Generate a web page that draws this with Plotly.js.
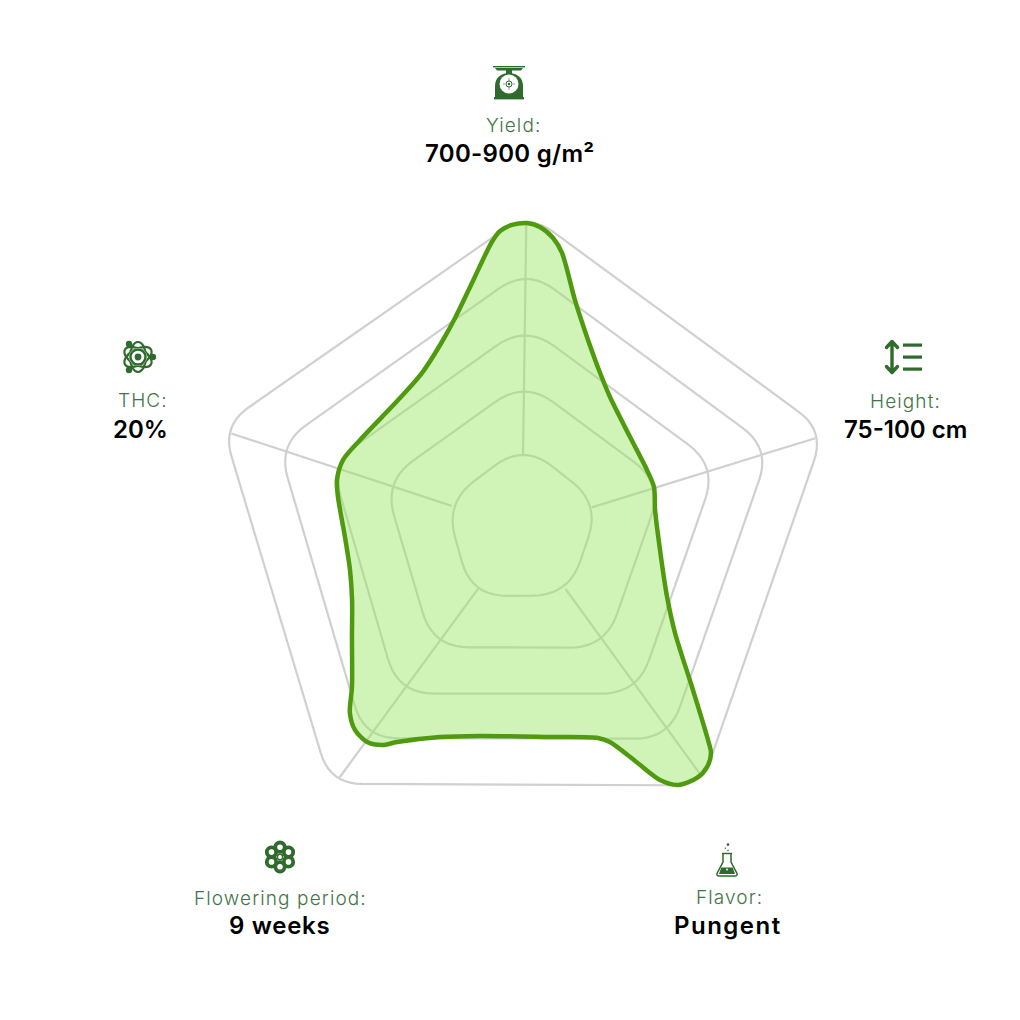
<!DOCTYPE html>
<html><head><meta charset="utf-8">
<script src="https://cdn.plot.ly/plotly-3.0.1.min.js"></script>
<style>html,body{margin:0;padding:0;background:#fff}#chart{width:1020px;height:1020px}</style>
</head><body><div id="chart"></div>
<script>
// ---- data ----
const categories = ["Yield:", "Height:", "Flavor:", "Flowering period:", "THC:"];
const categoryValues = ["700-900 g/m²", "75-100 cm", "Pungent", "9 weeks", "20%"];
const axisTheta = [89, 18, -55, -127, 161];
const ring1 = [85, 82, 81, 84, 81];
const ring2 = [148, 148, 145, 148, 146];
const ring3 = [204, 205, 201, 206, 202];
const ring4 = [260, 261, 256, 262, 258];
const ring5 = [316, 318, 313, 319, 317];
const spokeTheta = [89.2, 17.2, -54, -126.3, 161.8];
const spokeInner = [73, 73, 74, 74, 74];
const spokeOuter = [305, 307, 304, 308, 306];
const outlineTheta = [89.06,86.6,83.9,81.75,77,71.3,63.4,56.3,40.4,25.3,17.65,8.1,-8.65,-25.1,-34.2,-42.9,-48.6,-49.85,-52.1,-54.9,-58.6,-61.2,-64,-67.6,-70,-82.3,-101.5,-111.5,-120.4,-122.9,-126,-129.7,-133.1,-137.1,-147.6,-157.3,-166.6,-177.4,170.1,165.2,158.9,151.2,132.97,122.7,114,107.6,101,96,94.2,91.9,89.06];
const outlineR = [306,302.5,292.6,278.9,235.1,202.7,174.4,158.6,141.9,138.2,138.5,134.4,139.6,160.2,185,232.1,281.3,293.1,301.4,304.3,299.8,286.4,258.1,230.5,222.4,209.9,211.2,223.6,247,257.4,263.4,261.3,251.9,232.1,201.4,184.2,176.8,177.2,186.8,191.4,191.8,184.8,179,185.3,201.4,221.4,254,288.6,298.8,304.2,306];

// ---- style ----
const GRID = "#d0d0d0", LINE = "#4f9a0e", FILL = "rgba(150,230,95,0.45)";
const ICON = "#2f6b2c", LABEL = "#417545";
const ringCorner = [36, 36, 36, 34, 32];
const valueSpacing = [0.3, 0, 1.5, 0.7, 0];

// Draws a grid ring: straight edges between the axes, corners rounded.
function roundedRing(radii, corner) {
  const rad = Math.PI / 180, n = radii.length;
  const pts = radii.map((r, i) => [r * Math.cos(axisTheta[i] * rad), r * Math.sin(axisTheta[i] * rad)]);
  const r = [], t = [];
  const toward = (a, b, d) => { const L = Math.hypot(b[0]-a[0], b[1]-a[1]); return [a[0]+(b[0]-a[0])*d/L, a[1]+(b[1]-a[1])*d/L]; };
  for (let i = 0; i <= n; i++) {
    const v = pts[i % n], p = pts[(i + n - 1) % n], q = pts[(i + 1) % n];
    const a = toward(v, p, corner), b = toward(v, q, corner);
    const steps = i === n ? 0 : 10;
    for (let k = 0; k <= steps; k++) {
      const u = k / 10;
      const x = (1-u)*(1-u)*a[0] + 2*u*(1-u)*v[0] + u*u*b[0];
      const y = (1-u)*(1-u)*a[1] + 2*u*(1-u)*v[1] + u*u*b[1];
      r.push(Math.hypot(x, y)); t.push(Math.atan2(y, x) / rad);
    }
  }
  return { r, t };
}

const traces = [];
[ring1, ring2, ring3, ring4, ring5].forEach((ring, j) => {
  const g = roundedRing(ring, ringCorner[j]);
  traces.push({ type: "scatterpolar", mode: "lines", r: g.r, theta: g.t, hoverinfo: "skip",
    line: { color: GRID, width: 2.2 }, showlegend: false });
});
spokeTheta.forEach((th, i) => {
  traces.push({ type: "scatterpolar", mode: "lines", r: [spokeInner[i], spokeOuter[i]], theta: [th, th], hoverinfo: "skip",
    line: { color: GRID, width: 2.2 }, showlegend: false });
});
traces.push({ type: "scatterpolar", mode: "lines", r: outlineR, theta: outlineTheta, fill: "toself", fillcolor: FILL,
  line: { color: LINE, width: 4.5, shape: "spline", smoothing: 0.8 }, hoverinfo: "skip", showlegend: false });

// ---- text ----
const labelX = [513, 905, 729, 280, 143];
const labelY = [125, 402, 897, 898, 401];
const valueX = [510, 905, 728, 279, 140];
const valueY = [153, 429, 925, 925, 429];
const annotations = [];
categories.forEach((c, i) => {
  annotations.push({ xref: "paper", yref: "paper", x: labelX[i]/1020, y: 1-labelY[i]/1020,
    text: `<span style="letter-spacing:1.1px">${c}</span>`, showarrow: false,
    xanchor: "center", yanchor: "middle", font: { family: "Inter, sans-serif", size: 19, weight: 300, color: LABEL } });
  annotations.push({ xref: "paper", yref: "paper", x: valueX[i]/1020, y: 1-valueY[i]/1020,
    text: `<span style="letter-spacing:${valueSpacing[i]}px">${categoryValues[i]}</span>`, showarrow: false,
    xanchor: "center", yanchor: "middle", font: { family: "Inter, sans-serif", size: 24, weight: 600, color: "#000000" } });
});

// ---- icons ----
function svgUri(w, h, body) {
  return "data:image/svg+xml;utf8," + encodeURIComponent(
    `<svg xmlns="http://www.w3.org/2000/svg" width="${w}" height="${h}" viewBox="0 0 ${w} ${h}">${body}</svg>`);
}
const scaleIcon = `<g fill="${ICON}"><rect x="1" y="0" width="32" height="1.4"/><path d="M3 2H31L29 4.5H5Z"/><rect x="14" y="4" width="6" height="4"/>
<path d="M3 31V20C3 12 9 7 17 7S31 12 31 20V31Z"/><rect x="2" y="31" width="30" height="2.4"/></g>
<circle cx="17" cy="18" r="9.5" fill="#fff"/><circle cx="17" cy="18" r="3" fill="none" stroke="${ICON}" stroke-width="1"/><circle cx="17" cy="18" r="1.2" fill="${ICON}"/>
<path d="M17 12v3M11 18h2M21 18h2M17 21v3" stroke="${ICON}" stroke-width=".6"/>`;
const heightIcon = `<g stroke="${ICON}" stroke-width="3.4" fill="none" stroke-linecap="round" stroke-linejoin="round">
<path d="M10 4V34M4.5 9.5L10 3.5L15.5 9.5M4.5 28.5L10 34.5L15.5 28.5"/></g>
<g fill="${ICON}"><rect x="21" y="5.5" width="19" height="3.2"/><rect x="21" y="17.5" width="19" height="3.2"/><rect x="21" y="29.5" width="19" height="3.2"/></g>`;
const atomIcon = `<g fill="none" stroke="${ICON}" stroke-width="2.2"><ellipse cx="18" cy="18" rx="15" ry="8" transform="rotate(30 18 18)"/>
<ellipse cx="18" cy="18" rx="15" ry="8" transform="rotate(90 18 18)"/><ellipse cx="18" cy="18" rx="15" ry="8" transform="rotate(150 18 18)"/>
<circle cx="18" cy="18" r="9" fill="#fff" stroke="none"/><circle cx="18" cy="18" r="7.5" stroke-width="2.4"/></g>
<circle cx="18" cy="18" r="3.4" fill="${ICON}"/><g fill="${ICON}"><circle cx="9" cy="5" r="3.2"/><circle cx="33" cy="18" r="3.2"/><circle cx="9" cy="31" r="3.2"/></g>`;
const flowerIcon = `<g fill="none" stroke="${ICON}" stroke-width="3.8"><circle cx="17" cy="7.2" r="4.7"/><circle cx="25.5" cy="12.1" r="4.7"/><circle cx="25.5" cy="21.9" r="4.7"/>
<circle cx="17" cy="26.8" r="4.7"/><circle cx="8.5" cy="21.9" r="4.7"/><circle cx="8.5" cy="12.1" r="4.7"/><circle cx="17" cy="17" r="2.7" stroke-width="1.4"/></g>`;
const flaskIcon = `<path d="M8 11V19L2 30.5Q1.5 33 4 33H20Q22.5 33 22 30.5L16 19V11M7 10.5H17" fill="none" stroke="${ICON}" stroke-width="1.5"/>
<path d="M6.3 24.5H17.7L20 31H4Z" fill="${ICON}"/><circle cx="12" cy="26.5" r=".9" fill="#fff"/><g fill="${ICON}"><circle cx="13" cy="1.6" r="1.3"/><circle cx="10.3" cy="5.3" r=".7"/><circle cx="13" cy="7.5" r=".8"/></g>`;
const icons = [
  { svg: scaleIcon, x: 492, y: 66, w: 34, h: 34 },
  { svg: heightIcon, x: 882, y: 338, w: 42, h: 38 },
  { svg: flaskIcon, x: 715, y: 843, w: 24, h: 34 },
  { svg: flowerIcon, x: 263, y: 840, w: 34, h: 34 },
  { svg: atomIcon, x: 120, y: 339, w: 36, h: 36 }
];
const images = icons.map(ic => ({ source: svgUri(ic.w, ic.h, ic.svg), xref: "paper", yref: "paper", x: ic.x/1020, y: 1-ic.y/1020,
  sizex: ic.w/1020, sizey: ic.h/1020, xanchor: "left", yanchor: "top", sizing: "stretch", layer: "above" }));

const layout = {
  width: 1020, height: 1020, margin: { l: 0, r: 0, t: 0, b: 0 }, paper_bgcolor: "#fff", showlegend: false,
  polar: {
    domain: { x: [182/1020, 862/1020], y: [1-869/1020, 1-189/1020] },
    bgcolor: "rgba(0,0,0,0)",
    angularaxis: { visible: false, direction: "counterclockwise", rotation: 0, thetaunit: "degrees" },
    radialaxis: { visible: false, range: [0, 340] }
  },
  annotations, images
};
Plotly.newPlot("chart", traces, layout, { staticPlot: true, displayModeBar: false });
</script></body></html>
